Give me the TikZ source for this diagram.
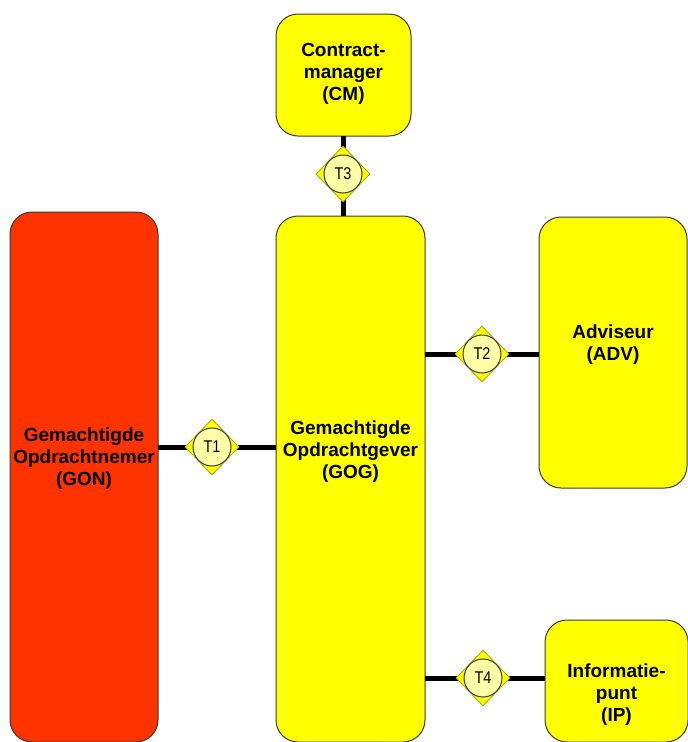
\documentclass[tikz,border=0pt]{standalone}
\usepackage{fontspec}
\setmainfont{Liberation Sans}
\usetikzlibrary{shapes.geometric}
\definecolor{boxred}{HTML}{FF3300}
\definecolor{boxyel}{HTML}{FFFF00}
\definecolor{edgegray}{HTML}{3A3A3A}
\definecolor{diamedge}{HTML}{A8A800}
\definecolor{circfill}{HTML}{FFFFA8}
\newcommand\tlabtext[1]{\scalebox{0.85}[1]{#1}}
\tikzset{
  actor/.style={rectangle, rounded corners=22pt, draw=edgegray, line width=1pt, inner sep=0pt, outer sep=0pt},
  actortext/.style={align=center, inner sep=0pt, font=\bfseries\fontsize{19}{22}\selectfont},
  conn/.style={line width=5pt, black},
  tdiam/.style={diamond, draw=diamedge, fill=boxyel, line width=0.8pt, minimum width=54pt, minimum height=56pt, inner sep=0pt},
  tcirc/.style={circle, draw=edgegray, fill=circfill, line width=1pt, minimum size=38pt, inner sep=0pt, font=\fontsize{17}{20}\selectfont}
}
\begin{document}
\begin{tikzpicture}[x=1pt,y=-1pt]
\useasboundingbox (0,0) rectangle (688,742);
\fill[white] (0,0) rectangle (688,742);
\clip (0,0) rectangle (688,742);
% boxes
\node[actor, fill=boxyel, minimum width=135pt, minimum height=122pt] (cm) at (343.5,75) {};
\node[actor, fill=boxred, minimum width=148pt, minimum height=530pt] (gon) at (84,477) {};
\node[actor, fill=boxyel, minimum width=149pt, minimum height=526pt] (gog) at (350.5,479) {};
\node[actor, fill=boxyel, minimum width=148pt, minimum height=271pt] (adv) at (613,352.5) {};
\node[actor, fill=boxyel, minimum width=143pt, minimum height=122pt] (ip) at (616.5,681) {};
% texts
\node[actortext] (cmtxt) at (343.5,74) {Contract-\\manager\\(CM)};
\node[actortext] (gontxt) at (84,459) {Gemachtigde\\Opdrachtnemer\\(GON)};
\node[actortext] (gogtxt) at (350.5,452) {Gemachtigde\\Opdrachtgever\\(GOG)};
\node[actortext] (advtxt) at (613,344.5) {Adviseur\\(ADV)};
\node[actortext] (iptxt) at (616.5,694.5) {Informatie-\\punt\\(IP)};
% transaction positions
\coordinate (c1) at (212,447);
\coordinate (c2) at (482,354);
\coordinate (c3) at (343,174);
\coordinate (c4) at (483,678);
% connectors
\draw[conn] (c1 -| gon.east) -- (c1 -| gog.west);
\draw[conn] (c2 -| gog.east) -- (c2 -| adv.west);
\draw[conn] (c3 |- cm.south) -- (c3 |- gog.north);
\draw[conn] (c4 -| gog.east) -- (c4 -| ip.west);
% transactions
\node[tdiam] (d1) at (c1) {};
\node[tcirc] (t1) at (c1) {\tlabtext{T1}};
\node[tdiam] (d2) at (c2) {};
\node[tcirc] (t2) at (c2) {\tlabtext{T2}};
\node[tdiam] (d3) at (c3) {};
\node[tcirc] (t3) at (c3) {\tlabtext{T3}};
\node[tdiam] (d4) at (c4) {};
\node[tcirc] (t4) at (c4) {\tlabtext{T4}};
\end{tikzpicture}
\end{document}
